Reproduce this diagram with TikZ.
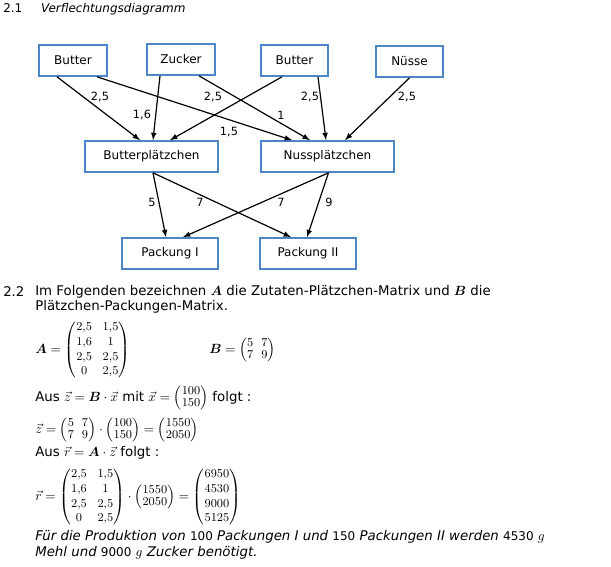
\documentclass[tikz,border=0pt]{standalone}
\usepackage{amsmath}
\usepackage{bm}
\usepackage{fontspec}
\setmainfont{DejaVu Sans}
\usetikzlibrary{calc}
\definecolor{boxblue}{RGB}{74,134,200}
\newcommand{\smat}[1]{{\fontsize{9.5}{11}\selectfont\renewcommand{\arraystretch}{1.0}\setlength{\arraycolsep}{4pt}\begin{pmatrix}#1\end{pmatrix}}}
\newcommand{\tmat}[1]{{\fontsize{9.5}{11}\selectfont\renewcommand{\arraystretch}{0.85}\setlength{\arraycolsep}{3pt}\begin{pmatrix}#1\end{pmatrix}}}

\begin{document}
\begin{tikzpicture}[x=0.75pt,y=-0.75pt,>=latex,font=\fontsize{9}{11}\selectfont]
    \tikzstyle{box}=[draw=boxblue,line width=1.5pt,minimum height=23pt,inner sep=0pt]
    \tikzstyle{flow}=[->,line width=0.9pt]
    \tikzstyle{wt}=[font=\fontsize{8.5}{10}\selectfont]
    \tikzstyle{line}=[anchor=west,inner sep=0pt,font=\fontsize{10}{12}\selectfont]
    \useasboundingbox (0,0) rectangle (611,567);

    % Heading
    \node[anchor=west,inner sep=0pt] (h1) at (3,9) {2.1\hspace{14pt}\textit{Verflechtungsdiagramm}};

    % Ingredients
    \node[box,minimum width=51pt] (butA) at (73,60.5) {Butter};
    \node[box,minimum width=51pt] (zuc) at (181,59.5) {Zucker};
    \node[box,minimum width=50pt] (butB) at (294.5,60.5) {Butter};
    \node[box,minimum width=50pt] (nus) at (409.5,61.5) {Nüsse};
    % Cookies
    \node[box,minimum width=100pt] (bp) at (151.5,156.5) {Butterplätzchen};
    \node[box,minimum width=100pt] (np) at (327.5,156.5) {Nussplätzchen};
    % Packages
    \node[box,minimum width=72pt] (pk1) at (170,253.5) {Packung I};
    \node[box,minimum width=72pt] (pk2) at (308,253.5) {Packung II};

    % Ingredients -> cookies
    \draw[flow] ($(butA.south)+(-16,0)$) -- ($(bp.north)+(-11.5,0)$);
    \draw[flow] ($(butA.south)+(24,0)$) -- ($(np.north)+(-35.5,0)$);
    \draw[flow] ($(zuc.south)+(-21,0)$) -- ($(bp.north)+(1.5,0)$);
    \draw[flow] ($(zuc.south)+(18,0)$) -- ($(np.north)+(-17.5,0)$);
    \draw[flow] ($(butB.south)+(-12.5,0)$) -- ($(bp.north)+(18.5,0)$);
    \draw[flow] ($(butB.south)+(23.5,0)$) -- ($(np.north)+(-1.5,0)$);
    \draw[flow] (nus.south) -- ($(np.north)+(17.5,0)$);
    % Cookies -> packages
    \draw[flow] ($(bp.south)+(1.5,0)$) -- ($(pk1.north)+(-4,0)$);
    \draw[flow] ($(bp.south)+(1.5,0)$) -- ($(pk2.north)+(-17,0)$);
    \draw[flow] ($(np.south)+(1,0)$) -- ($(pk1.north)+(13,0)$);
    \draw[flow] ($(np.south)+(1,0)$) -- ($(pk2.north)+(-1,0)$);

    % Weights
    \node[wt] (w1) at (100,97) {2,5};
    \node[wt] (w2) at (229,132) {1,5};
    \node[wt] (w3) at (142,115) {1,6};
    \node[wt] (w4) at (281,115) {1};
    \node[wt] (w5) at (213,97) {2,5};
    \node[wt] (w6) at (310,97) {2,5};
    \node[wt] (w7) at (407,97) {2,5};
    \node[wt] (w8) at (152,202) {5};
    \node[wt] (w9) at (200,202) {7};
    \node[wt] (w10) at (281,202) {7};
    \node[wt] (w11) at (329,202) {9};

    % Part 2.2
    \node[line] (h2) at (3,292) {2.2};
    \node[anchor=north west,inner sep=0pt,text width=430pt,align=justify,font=\fontsize{10}{11}\selectfont] (par) at (35,285)
        {Im Folgenden bezeichnen $\bm{A}$ die Zutaten-Plätzchen-Matrix und $\bm{B}$ die\\ Plätzchen-Packungen-Matrix.};
    \node[line] (matA) at (35,350) {$\bm{A}=\smat{2{,}5 & 1{,}5\\ 1{,}6 & 1\\ 2{,}5 & 2{,}5\\ 0 & 2{,}5}$};
    \node[line] (matB) at (209,350) {$\bm{B}=\tmat{5 & 7\\ 7 & 9}$};
    \node[line] (l1) at (35,398) {Aus $\vec z=\bm{B}\cdot\vec x$ mit $\vec x=\tmat{100\\ 150}$ folgt :};
    \node[line] (l2) at (35,430) {$\vec z=\tmat{5 & 7\\ 7 & 9}\cdot\tmat{100\\ 150}=\tmat{1550\\ 2050}$};
    \node[line] (l3) at (35,453) {Aus $\vec r=\bm{A}\cdot\vec z$ folgt :};
    \node[line] (l4) at (35,497) {$\vec r=\smat{2{,}5 & 1{,}5\\ 1{,}6 & 1\\ 2{,}5 & 2{,}5\\ 0 & 2{,}5}\cdot\tmat{1550\\ 2050}=\smat{6950\\ 4530\\ 9000\\ 5125}$};
    \node[line] (l5) at (35,537) {\itshape Für die Produktion von {\upshape\small 100} Packungen I und {\upshape\small 150} Packungen II werden {\upshape\small 4530} $g$};
    \node[line] (l6) at (35,553) {\itshape Mehl und {\upshape\small 9000} $g$ Zucker benötigt.};
\end{tikzpicture}
\end{document}
